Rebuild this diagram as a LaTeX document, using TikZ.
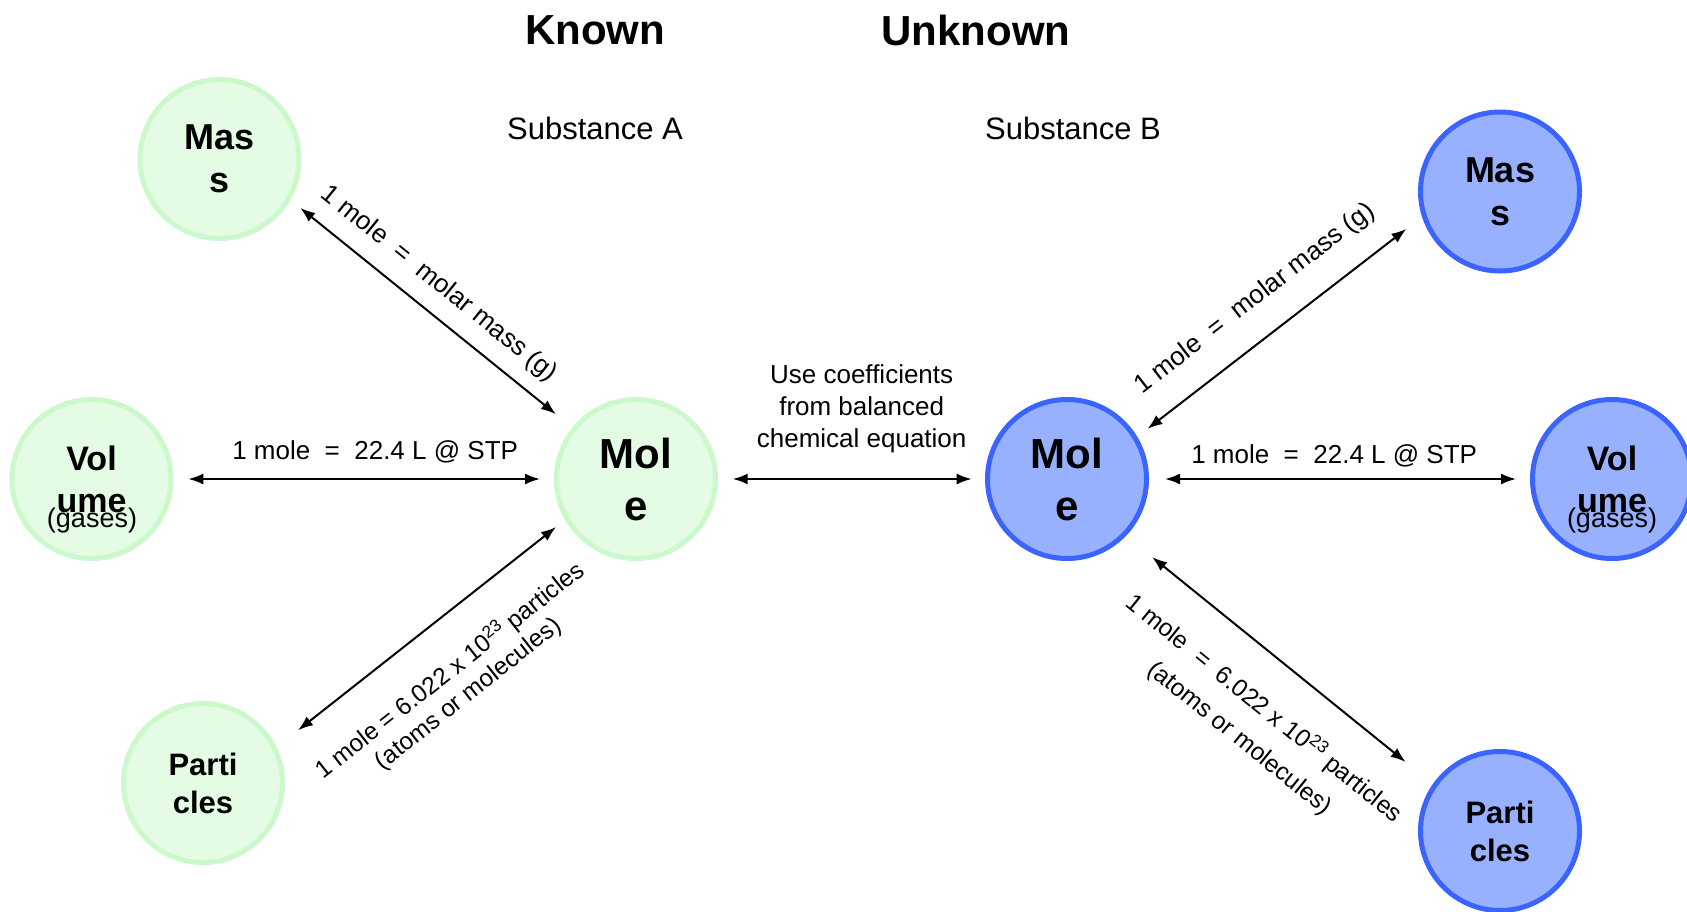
\documentclass[tikz,border=0pt]{standalone}
\usepackage{fontspec}
\setmainfont{Liberation Sans}
\usepackage{tikz}
\usetikzlibrary{arrows}
\usetikzlibrary{arrows.meta}
\definecolor{knownfill}{HTML}{E4FCE4}
\definecolor{knowndraw}{HTML}{CCF9CC}
\definecolor{unkfill}{HTML}{97B1FF}
\definecolor{unkdraw}{HTML}{3B64FF}
\newcommand{\fsz}[2]{\fontsize{#1}{#2}\selectfont}

\begin{document}
\begin{tikzpicture}[x=1pt,y=-1pt]
\tikzset{known/.style = {circle,draw=knowndraw,fill=knownfill,line width=5pt,minimum size=159pt,inner sep=0pt,outer sep=2.5pt,align=center}}
\tikzset{unknown/.style = {circle,draw=unkdraw,fill=unkfill,line width=5pt,minimum size=159pt,inner sep=0pt,outer sep=2.5pt,align=center}}
\tikzset{conv/.style = {<->,>={Latex[length=15pt,width=11pt]},line width=2pt}}
\tikzset{lbl/.style = {font=\fsz{26}{31},inner sep=0pt,align=center}}
\useasboundingbox (0,0) rectangle (1687,911);
\clip (0,0) rectangle (1687,911);
% headings
\node[font=\bfseries\fsz{42}{50},inner sep=0pt] (known) at (595,30) {Known};
\node[font=\bfseries\fsz{42}{50},inner sep=0pt] (unknown) at (976,30) {Unknown};
\node[font=\fsz{31}{37},inner sep=0pt] (subA) at (595,128) {Substance A};
\node[font=\fsz{31}{37},inner sep=0pt] (subB) at (1073,128) {Substance B};
% vertices
\node[known,font=\bfseries\fsz{36}{43}] (massA) at (219.5,159) {Mas\\s};
\node[known,font=\bfseries\fsz{34}{42}] (volA) at (91.5,479) {Vol\\ume};
\node[font=\fsz{27}{32},inner sep=0pt] (gasA) at (92,521) {(gases)};
\node[known,font=\bfseries\fsz{42}{52}] (moleA) at (636,479) {Mol\\e};
\node[known,font=\bfseries\fsz{31}{38}] (partA) at (203,783) {Parti\\cles};
\node[unknown,font=\bfseries\fsz{42}{52}] (moleB) at (1067,479) {Mol\\e};
\node[unknown,font=\bfseries\fsz{36}{43}] (massB) at (1500,191.5) {Mas\\s};
\node[unknown,font=\bfseries\fsz{34}{42}] (volB) at (1612,479) {Vol\\ume};
\node[font=\fsz{27}{32},inner sep=0pt] (gasB) at (1612,521) {(gases)};
\node[unknown,font=\bfseries\fsz{31}{38}] (partB) at (1500,831) {Parti\\cles};
%edges
\draw[conv,shorten <=12.5pt,shorten >=21pt] (massA.-30.7) -- node[lbl,pos=0.465,sloped,above=14.7pt] {1 mole\ \ =\ \ molar mass (g)} (moleA.141.1);
\draw[conv,shorten <=14.8pt,shorten >=14pt] (volA.0) -- node[lbl,pos=0.53,above=14.8pt] {1 mole\ \ =\ \ 22.4 L @ STP} (moleA.180);
\draw[conv,shorten <=27.2pt,shorten >=11.4pt] (partA.26.5) -- node[lbl,pos=0.5,sloped,below=33pt,font=\fsz{24.5}{29}] {1 mole = 6.022 x 10\textsuperscript{23} particles\\(atoms or molecules)} (moleA.210.7);
\draw[conv,shorten <=14.7pt,shorten >=13.3pt] (moleA.0) -- node[lbl,pos=0.538,above=25.5pt,font=\fsz{26}{32}] {Use coefficients\\from balanced\\chemical equation} (moleB.180);
\draw[conv,shorten <=12.9pt,shorten >=19.8pt] (moleB.31.1) -- node[lbl,pos=0.493,sloped,above=24pt] {1 mole\ \ =\ \ molar mass (g)} (massB.198.2);
\draw[conv,shorten <=16pt,shorten >=14pt] (moleB.0) -- node[lbl,pos=0.486,above=10.8pt] {1 mole\ \ =\ \ 22.4 L @ STP} (volB.180);
\draw[conv,shorten <=33.6pt,shorten >=35pt] (moleB.-44.8) -- node[lbl,pos=0.547,sloped,below=33pt,font=\fsz{24.5}{38}] {1 mole\ \ =\ \ 6.022 x 10\textsuperscript{23} particles\\(atoms or molecules)} (partB.145.7);
\end{tikzpicture}
\end{document}
